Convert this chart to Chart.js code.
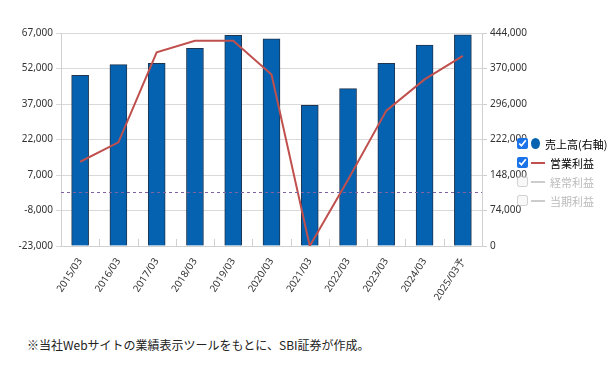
<!DOCTYPE html>
<html>
<head>
<meta charset="utf-8">
<script src="https://cdn.jsdelivr.net/npm/chart.js@4"></script>
<style>
  body{margin:0;background:#fff;width:609px;height:369px;overflow:hidden;position:relative;font-family:"Noto Sans CJK JP","Noto Sans",sans-serif;}
  #wrap{position:absolute;left:0;top:0;width:541px;height:320px;}
  #legend{position:absolute;left:517px;top:134px;font-size:11px;}
  .row{height:19px;display:flex;align-items:center;white-space:nowrap;}
  .row input{width:11px;height:11px;margin:0 3px 0 0;accent-color:#1a73e8;}
  .mk{display:inline-block;margin-right:5px;}
  .off{color:#bbb;}
  #note{position:absolute;left:27px;top:336px;font-size:12px;color:#222;}
</style>
</head>
<body>
<div id="wrap"><canvas id="myChart"></canvas></div>
<div id="legend">
  <div class="row"><input type="checkbox" checked><span class="mk" style="width:9px;height:11px;border-radius:50%;background:#0562b0"></span>売上高(右軸)</div>
  <div class="row"><input type="checkbox" checked><span class="mk" style="width:14px;height:2px;background:#c0504d"></span>営業利益</div>
  <div class="row off"><input type="checkbox" disabled><span class="mk" style="width:14px;height:2px;background:#ccc"></span>経常利益</div>
  <div class="row off"><input type="checkbox" disabled><span class="mk" style="width:14px;height:2px;background:#ccc"></span>当期利益</div>
</div>
<div id="note">※当社Webサイトの業績表示ツールをもとに、SBI証券が作成。</div>
<script>
const periods = ["2015/03","2016/03","2017/03","2018/03","2019/03","2020/03","2021/03","2022/03","2023/03","2024/03","2025/03予"];
const sales = [356000,378000,381000,412000,439000,432000,293000,328000,381000,419000,440000];
const opProfit = [12600,20800,58800,63700,63700,49500,-23000,5000,34200,47400,57300];

const leftTicks = {min:-23000, max:67000, step:15000};
const rightTicks = {min:0, max:444000, step:74000};

// dashed zero line + small category ticks at the bottom
const extras = {
  id:'extras',
  afterDatasetsDraw(chart){
    const c = chart.ctx, a = chart.chartArea;
    const y0 = chart.scales.y.getPixelForValue(0);
    c.save();
    c.strokeStyle = '#8064a2';
    c.lineWidth = 1;
    c.setLineDash([3,3]);
    c.beginPath(); c.moveTo(a.left, Math.round(y0)+0.5); c.lineTo(a.right, Math.round(y0)+0.5); c.stroke();
    c.restore();
  },
  beforeDatasetsDraw(chart){
    const c = chart.ctx, a = chart.chartArea, x = chart.scales.x;
    c.save();
    c.strokeStyle = '#d0d0d0';
    c.lineWidth = 1;
    for (let i = 1; i < periods.length; i++){
      const px = Math.round((x.getPixelForValue(i-1)+x.getPixelForValue(i))/2)+0.5;
      c.beginPath(); c.moveTo(px, a.bottom); c.lineTo(px, a.bottom-7); c.stroke();
    }
    c.restore();
  }
};

const tickFont = {family:"'Noto Sans', sans-serif", size:10};

new Chart(document.getElementById('myChart'), {
  data: {
    labels: periods,
    datasets: [
      {type:'line', label:'営業利益', data:opProfit, yAxisID:'y', borderColor:'#c0504d', borderWidth:2, pointRadius:0, tension:0, order:0},
      {type:'bar', label:'売上高(右軸)', data:sales, yAxisID:'y1', backgroundColor:'#0562b0', borderColor:'#1f3550', borderWidth:1, barThickness:17, order:1}
    ]
  },
  options: {
    responsive:true,
    maintainAspectRatio:false,
    animation:false,
    layout:{padding:{top:33, right:0, left:0, bottom:0}},
    plugins:{legend:{display:false}, tooltip:{enabled:false}},
    scales:{
      x:{
        offset:true,
        grid:{display:false},
        border:{color:'#d0d0d0'},
        ticks:{color:'#333', font:tickFont, minRotation:57, maxRotation:57, padding:2},
        afterFit(s){ s.height = 74; }
      },
      y:{
        position:'left',
        min:leftTicks.min, max:leftTicks.max,
        ticks:{stepSize:leftTicks.step, color:'#333', font:tickFont, padding:3,
          callback:v=>v.toLocaleString('en-US')},
        grid:{color:'#d9d9d9', tickLength:5},
        border:{color:'#d0d0d0'},
        afterFit(s){ s.width = 61; }
      },
      y1:{
        position:'right',
        min:rightTicks.min, max:rightTicks.max,
        ticks:{stepSize:rightTicks.step, color:'#333', font:tickFont, padding:3,
          callback:v=>v.toLocaleString('en-US')},
        grid:{drawOnChartArea:false, color:'#d0d0d0', tickLength:5},
        border:{color:'#d0d0d0'},
        afterFit(s){ s.width = 59; }
      }
    }
  },
  plugins:[extras]
});
</script>
</body>
</html>
